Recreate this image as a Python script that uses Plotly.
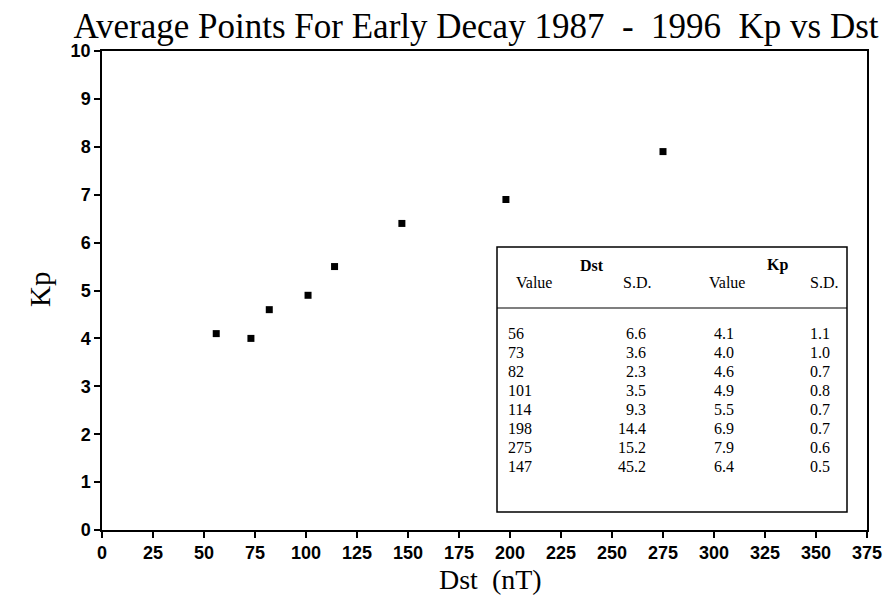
import plotly.graph_objects as go

dst_value = [56, 73, 82, 101, 114, 198, 275, 147]
dst_sd = ["6.6", "3.6", "2.3", "3.5", "9.3", "14.4", "15.2", "45.2"]
kp_value = [4.1, 4.0, 4.6, 4.9, 5.5, 6.9, 7.9, 6.4]
kp_sd = ["1.1", "1.0", "0.7", "0.8", "0.7", "0.7", "0.6", "0.5"]
x_ticks = list(range(0, 376, 25))
y_ticks = list(range(0, 11))

OFF = 8  # default page body margin in the browser
W, H = 892, 595
# plot area, in reference-image pixels
L, R, T, B = 102, 867, 51, 530


def px(x):
    return (x - L) / (R - L)


def py(y):
    return (B - y) / (B - T)


fig = go.Figure()
fig.add_trace(go.Scatter(
    x=dst_value, y=kp_value, mode="markers",
    marker=dict(symbol="square", size=7, color="black"),
    showlegend=False, hoverinfo="x+y"))

serif = "Liberation Serif, Times New Roman, serif"
sans = "Liberation Sans, Arial, sans-serif"

fig.update_layout(
    width=W, height=H,
    margin=dict(l=L - OFF, r=W - (R - OFF), t=T - OFF, b=H - (B - OFF)),
    paper_bgcolor="white", plot_bgcolor="white",
    title=dict(text="Average Points For Early Decay 1987  -  1996  Kp vs Dst",
               font=dict(family=serif, size=35, color="black"),
               x=px(476), xref="paper", xanchor="center",
               y=1 - (26 - OFF) / H, yref="container", yanchor="middle"),
)
fig.update_xaxes(
    range=[0, 375], tickvals=x_ticks, ticktext=[str(v) for v in x_ticks],
    ticks="outside", ticklen=6, tickwidth=1.5, tickcolor="black",
    showline=True, linecolor="black", linewidth=1.5, mirror=True,
    showgrid=False, zeroline=False,
    tickfont=dict(family=sans, size=18, color="black", weight="bold"),
)
fig.update_yaxes(
    range=[0, 10], tickvals=y_ticks, ticktext=[str(v) for v in y_ticks],
    ticks="outside", ticklen=6, tickwidth=1.5, tickcolor="black",
    showline=True, linecolor="black", linewidth=1.5, mirror=True,
    showgrid=False, zeroline=False,
    tickfont=dict(family=sans, size=18, color="black", weight="bold"),
)

# axis titles
fig.add_annotation(x=px(490), y=py(579), xref="paper", yref="paper",
                   text="Dst  (nT)", showarrow=False, xanchor="center",
                   yanchor="middle",
                   font=dict(family=serif, size=28, color="black"))
fig.add_annotation(x=px(40), y=py(290), xref="paper", yref="paper",
                   text="Kp", showarrow=False, xanchor="center",
                   yanchor="middle", textangle=-90,
                   font=dict(family=serif, size=29, color="black"))

# ---- inset table ----
tl, tr, tt, tb = 497, 847, 247, 512
fig.add_shape(type="rect", xref="paper", yref="paper",
              x0=px(tl), x1=px(tr), y0=py(tb), y1=py(tt),
              line=dict(color="black", width=1.5), fillcolor="white")
fig.add_shape(type="line", xref="paper", yref="paper",
              x0=px(tl), x1=px(tr), y0=py(308), y1=py(308),
              line=dict(color="black", width=1.2))

tfont = dict(family=serif, size=16, color="black")


def txt(x, y, s, anchor="center", bold=False):
    f = dict(tfont)
    if bold:
        f["weight"] = "bold"
    fig.add_annotation(x=px(x), y=py(y), xref="paper", yref="paper",
                       text=s, showarrow=False, xanchor=anchor,
                       yanchor="middle", font=f)


txt(592, 265, "Dst", bold=True)
txt(777, 265, "Kp", bold=True)
txt(534, 282, "Value")
txt(637, 282, "S.D.")
txt(727, 282, "Value")
txt(824, 282, "S.D.")

row_y0, row_dy = 333, 19.1
for i in range(len(dst_value)):
    yy = row_y0 + i * row_dy
    txt(506, yy, str(dst_value[i]), anchor="left")
    txt(648, yy, dst_sd[i], anchor="right")
    txt(712, yy, f"{kp_value[i]:.1f}", anchor="left")
    txt(832, yy, kp_sd[i], anchor="right")

fig.write_html("out.html")
